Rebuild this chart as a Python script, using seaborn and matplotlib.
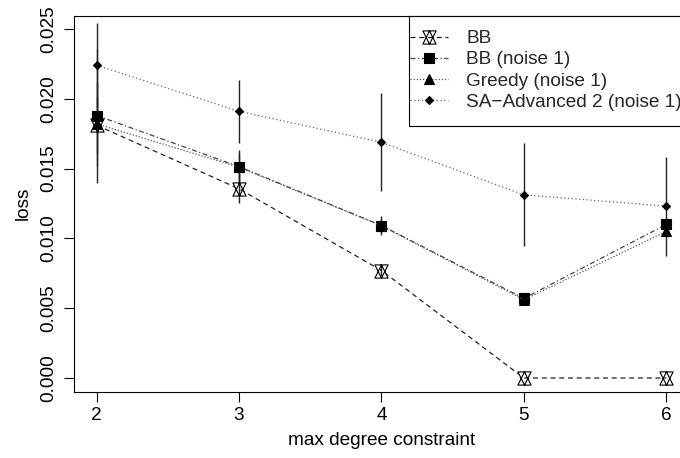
import numpy as np
import pandas as pd
import matplotlib
matplotlib.use("Agg")
import matplotlib.pyplot as plt
import seaborn as sns
from matplotlib.patches import Rectangle
from matplotlib.lines import Line2D
from matplotlib.path import Path

# ---------------- data ----------------
x_vals = [2, 3, 4, 5, 6]
bb = [0.0181, 0.01355, 0.0077, 0.0000, 0.0000]
bb_err = [0.0020, 0.00105, 0.0004, 0.0, 0.0]
bb_noise = [0.0188, 0.01514, 0.01092, 0.0057, 0.0110]
bb_noise_err = [0.0048, 0.0012, 0.0007, 0.0003, 0.0003]
greedy = [0.0182, 0.0151, 0.0109, 0.0056, 0.0105]
greedy_err = [0.0030, 0.0010, 0.0005, 0.0003, 0.0004]
sa = [0.0224, 0.0191, 0.01688, 0.01312, 0.01231]
sa_err = [0.0030, 0.00228, 0.0035, 0.0037, 0.00355]
labels = ["BB", "BB (noise 1)", "Greedy (noise 1)", "SA\u2212Advanced 2 (noise 1)"]
y_ticks = [0.000, 0.005, 0.010, 0.015, 0.020, 0.025]
x_label = "max degree constraint"
y_label = "loss"

# ---------------- style ----------------
sns.set_theme(style="ticks")
plt.rcParams['font.family'] = ['Liberation Sans', 'DejaVu Sans']
FS = 13.7

fig = plt.figure(figsize=(6.8, 4.58), dpi=100)
ax = fig.add_axes([74 / 680, 66 / 458, 615 / 680, 376.4 / 458])

# star-of-David like marker (triangle up + triangle down)
star_path = Path(
    [(0, 1), (-1, -1), (1, -1), (0, 1), (0, -1), (-1, 1), (1, 1), (0, -1)],
    [Path.MOVETO, Path.LINETO, Path.LINETO, Path.CLOSEPOLY,
     Path.MOVETO, Path.LINETO, Path.LINETO, Path.CLOSEPOLY])

series = [
    dict(y=bb, err=bb_err, ls=(0, (4, 3)), marker=star_path, ms=9.5, mfc='white', lc='#222222'),
    dict(y=bb_noise, err=bb_noise_err, ls=(0, (4, 2, 1, 2)), marker='s', ms=7.2, mfc='black', lc='#444444'),
    dict(y=greedy, err=greedy_err, ls=(0, (1, 1.5)), marker='^', ms=7.5, mfc='black', lc='#555555'),
    dict(y=sa, err=sa_err, ls=(0, (1, 2)), marker='D', ms=4.2, mfc='black', lc='#666666'),
]

# error bars
for s in series:
    ax.errorbar(x_vals, s['y'], yerr=s['err'], fmt='none', ecolor='#222222',
                elinewidth=1.0, capsize=0, zorder=2)

handles = []
for s, lab in zip(series, labels):
    df = pd.DataFrame({'x': x_vals, 'y': s['y']})
    sns.lineplot(data=df, x='x', y='y', ax=ax, color=s['lc'], linewidth=0.9,
                 marker=s['marker'], markersize=s['ms'], markerfacecolor=s['mfc'],
                 markeredgecolor='black', markeredgewidth=0.8, zorder=3)
    ln = ax.lines[-1]
    ln.set_linestyle(s['ls'])
    handles.append(Line2D([], [], color=s['lc'], linewidth=0.9, linestyle=s['ls'],
                          marker=s['marker'], markersize=s['ms'], markerfacecolor=s['mfc'],
                          markeredgecolor='black', markeredgewidth=0.8))

# ---------------- axes ----------------
ax.set_xlim(1.84, 6.16)
ax.set_ylim(-0.001003, 0.02596)
ax.set_xticks(x_vals)
ax.set_xticklabels([str(v) for v in x_vals])
ax.set_yticks(y_ticks)
ax.set_yticklabels([f"{v:.3f}" for v in y_ticks])
for sp in ax.spines.values():
    sp.set_color('black')
    sp.set_linewidth(0.8)
ax.tick_params(direction='out', length=7, width=0.8, color='black',
               labelsize=FS, labelcolor='black')
ax.tick_params(axis='x', pad=4)
ax.tick_params(axis='y', pad=5)
for lab in ax.get_yticklabels():
    lab.set_rotation(90)
    lab.set_va('center')
    lab.set_ha('right')
ax.set_xlabel(x_label, fontsize=FS, color='black')
ax.set_ylabel(y_label, fontsize=FS, color='black')
ax.yaxis.set_label_coords((32 - 74) / 615, 0.5)
ax.xaxis.set_label_coords(0.5, (392 - 432) / 376.4)
ax.grid(False)

# legend box
ax.add_patch(Rectangle(((409 - 74) / 615, (392 - 126) / 376.4), 0.6, (126 - 15.6) / 376.4,
                       transform=ax.transAxes, facecolor='white', edgecolor='black',
                       linewidth=0.8, clip_on=False, zorder=4))
leg = ax.legend(handles, labels, loc='upper left',
                bbox_to_anchor=((410 - 74) / 615, (392 - 30.0) / 376.4),
                frameon=False, fontsize=FS, borderpad=0, borderaxespad=0,
                labelspacing=0.2, handlelength=1.98, handletextpad=0.98)
leg.set_zorder(5)

fig.savefig("out.png", dpi=100)
